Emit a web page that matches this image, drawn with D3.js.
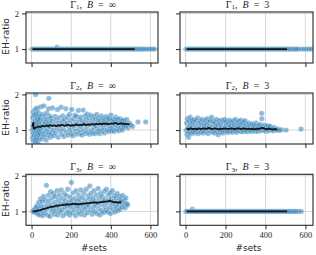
<!DOCTYPE html>
<html>
<head>
<meta charset="utf-8">
<script src="https://cdn.jsdelivr.net/npm/d3@7"></script>
<style>
  body { margin: 0; background: #fff; }
</style>
</head>
<body>
<div class="viz"></div>
<script>
const w = 316;
const h = 255;

// tick values
const xTicks = [0, 200, 400, 600];
const yTicks = [1, 2];

// Gamma_1, B = inf
const g1Inf = [[2,1],[9,1],[16,1],[23,1],[30,1],[37,1],[44,1],[51,1],[58,1],[65,1],[72,1],[79,1],[86,1],[93,1],[100,1],[107,1],[114,1],[121,1],[128,1],[129,1.05],[135,1],[142,1],[149,1],[156,1],[163,1],[170,1],[177,1],[184,1],[191,1],[198,1],[205,1],[212,1],[219,1],[226,1],[233,1],[240,1],[247,1],[254,1],[261,1],[268,1],[275,1],[282,1],[289,1],[296,1],[303,1],[310,1],[317,1],[324,1],[331,1],[338,1],[345,1],[352,1],[359,1],[366,1],[373,1],[380,1],[387,1],[394,1],[401,1],[408,1],[415,1],[422,1],[429,1],[436,1],[443,1],[450,1],[457,1],[464,1],[471,1],[478,1],[485,1],[492,1],[499,1],[506,1],[513,1],[520,1],[527,1],[535,1],[543,1],[552,1],[561,1],[570,1],[580,1],[590,1],[600,1],[610,1],[621,1]];
const m1Inf = [[5,1],[100,1],[200,1],[300,1],[400,1],[520,1]];

// Gamma_1, B = 3
const g13 = [[2,1],[9,1],[16,1],[23,1],[30,1],[37,1],[44,1],[51,1],[58,1],[65,1],[72,1],[79,1],[86,1],[93,1],[100,1],[107,1],[114,1],[121,1],[128,1],[135,1],[142,1],[149,1],[156,1],[163,1],[170,1],[177,1],[184,1],[191,1],[198,1],[205,1],[212,1],[219,1],[226,1],[233,1],[240,1],[247,1],[254,1],[261,1],[268,1],[275,1],[282,1],[289,1],[296,1],[303,1],[310,1],[317,1],[324,1],[331,1],[338,1],[345,1],[352,1],[359,1],[366,1],[373,1],[380,1],[387,1],[394,1],[401,1],[408,1],[415,1],[422,1],[429,1],[436,1],[443,1],[450,1],[457,1],[464,1],[471,1],[478,1],[485,1],[492,1],[499,1],[506,1],[514,1],[522,1],[530,1],[540,1],[548,1],[556,1],[565,1],[580,1],[592,1],[605,1],[617,1],[629,1]];
const m13 = [[5,1],[100,1],[200,1],[300,1],[400,1],[508,1]];

// Gamma_2, B = inf
const g2Inf = [[2,1.0],[4,0.78],[5,1.35],[6,1.12],[7,0.9],[8,1.5],[9,1.22],[10,0.7],[11,1.05],[12,1.42],[13,0.85],[15,1.18],[16,0.95],[17,1.58],[18,0.68],[19,1.28],[20,2.0],[21,0.8],[22,1.45],[23,1.0],[24,1.2],[25,0.74],[26,1.36],[27,0.92],[28,1.62],[29,1.1],[30,0.86],[31,1.3],[32,1.02],[33,0.66],[34,1.5],[35,1.15],[36,0.94],[37,1.25],[38,0.78],[39,1.4],[40,1.06],
  [42,0.88],[44,1.32],[46,1.65],[48,0.98],[50,1.18],[52,0.75],[54,1.44],[56,1.08],[58,0.9],[60,1.28],[62,1.68],[64,0.82],[66,1.15],[68,1.38],[70,0.96],[72,1.22],[74,0.72],[76,1.48],[78,1.04],[80,1.3],[82,0.86],[84,1.12],[86,1.6],[87,1.89],[88,0.94],[90,1.2],[92,1.4],[94,0.8],[96,1.08],[98,1.34],[100,0.9],[103,1.25],[106,1.62],[109,1.0],[112,0.84],[116,1.16],[119,1.38],[122,0.92],[125,1.28],[128,1.06],[131,1.58],[134,0.8],[137,1.2],[140,1.35],[143,0.98],[146,1.12],[149,1.64],
  [152,0.88],[155,1.24],[158,1.4],[161,1.02],[164,0.82],[167,1.3],[170,1.15],[173,1.6],[176,0.94],[179,1.2],[182,1.36],[185,0.86],[188,1.1],[191,1.44],[194,1.0],[197,1.26],[200,0.9],[203,1.58],[206,1.14],[209,0.84],[212,1.32],[215,1.06],[218,1.42],[221,0.96],[224,1.22],[227,1.38],[230,0.88],[233,1.16],[236,1.55],[239,1.02],[242,1.28],[245,0.92],[248,1.36],[251,1.1],[254,0.86],[257,1.24],[260,1.56],[263,0.98],[266,1.18],[269,1.4],[272,0.9],[275,1.3],[278,1.08],[281,1.45],[284,0.95],[287,1.2],[290,1.34],[293,0.88],[296,1.14],[299,1.42],
  [302,1.0],[305,1.28],[308,0.92],[311,1.18],[314,1.38],[317,1.06],[320,0.9],[323,1.3],[326,1.12],[329,1.44],[332,0.96],[335,1.22],[338,1.34],[341,1.02],[344,0.9],[347,1.26],[350,1.14],[353,1.4],[356,0.98],[359,1.2],[362,1.32],[365,1.06],[368,0.92],[371,1.28],[374,1.16],[377,1.38],[380,1.0],[383,1.22],[386,1.34],[389,0.96],[392,1.12],[395,1.3],[398,1.04],[401,1.42],[404,0.98],[407,1.2],[410,1.3],[413,1.08],[416,0.96],[419,1.26],[422,1.16],[425,1.36],[428,1.02],[431,1.22],[434,1.3],[437,1.1],[440,0.98],[443,1.2],[446,1.32],[449,1.06],[452,1.18],[455,1.26],[458,1.0],[461,1.14],[464,1.28],[467,1.08],[470,1.2],[475,1.12],[480,1.3],[486,1.06],[492,1.2],[500,1.15],[510,1.1],[537,1.23],[576,1.23]];
const m2Inf = [[5,1.1],[8,1.2],[12,1.04],[18,1.06],[25,1.08],[35,1.1],[45,1.09],[55,1.12],[65,1.1],[75,1.13],[85,1.11],[95,1.14],[105,1.12],[115,1.13],[125,1.11],[135,1.14],[145,1.12],[155,1.15],[165,1.12],[175,1.13],[185,1.15],[195,1.12],[205,1.14],[215,1.13],[225,1.16],[235,1.13],[245,1.15],[255,1.14],[265,1.17],[275,1.14],[285,1.16],[295,1.15],[305,1.17],[315,1.15],[325,1.18],[335,1.16],[345,1.18],[355,1.16],[365,1.19],[375,1.17],[385,1.18],[395,1.17],[405,1.19],[415,1.18],[425,1.2],[435,1.17],[445,1.18],[455,1.19],[465,1.17],[475,1.18],[485,1.16],[495,1.17]];

// Gamma_2, B = 3
const g23 = [[3,1.0],[5,1.2],[7,0.88],[9,1.32],[11,1.05],[13,0.93],[15,0.8],[17,1.25],[19,1.1],[21,0.96],[23,1.36],[25,1.02],[27,1.18],[29,0.9],[31,1.28],[33,1.08],[35,0.95],[37,1.22],[40,1.0],[43,1.3],[46,0.92],[49,1.14],[52,1.26],[55,0.98],[58,1.06],[61,1.34],[64,0.9],[67,1.18],[70,1.02],[73,1.24],[76,0.94],[79,1.12],[82,1.3],[85,1.0],[88,0.92],[91,1.2],[94,1.08],[97,1.28],[100,0.96],[103,1.16],[106,1.04],[109,1.32],[112,0.9],[115,1.22],[118,1.1],[121,0.98],[124,1.26],[127,1.05],[130,1.36],[133,0.94],[136,1.15],[139,1.24],[142,1.0],[145,0.92],[148,1.2],[151,1.08],[154,1.3],[157,0.96],[160,1.14],[163,0.87],[166,1.26],[169,1.02],[172,1.18],[175,0.94],[178,1.1],[181,1.28],[184,1.0],[187,0.92],[190,1.22],[193,1.06],[196,1.3],[199,0.97],[202,1.14],[205,1.24],[208,1.0],[211,0.93],[214,1.18],[217,1.08],[220,1.28],[223,0.96],[226,1.12],[229,1.22],[232,1.02],[235,0.94],[238,1.26],[241,1.08],[244,1.16],[247,0.98],[250,1.3],[253,1.04],[256,0.94],[259,1.2],[262,1.1],[265,1.25],[268,0.98],[271,1.14],[274,1.06],[277,1.28],[280,0.95],[283,1.18],[286,1.02],[289,1.22],[292,0.96],[295,1.1],[298,1.26],[301,1.0],[305,1.16],[309,0.95],[313,1.08],[317,1.2],[321,1.0],[325,1.12],[329,0.96],[333,1.18],[337,1.04],[341,1.14],[345,0.97],[349,1.1],[353,1.2],[357,1.02],[361,0.96],[365,1.12],[369,1.06],[373,1.16],[377,0.98],[381,1.47],[382,1.32],[385,1.08],[389,1.0],[393,1.14],[397,1.04],[401,0.97],[405,1.1],[409,1.02],[413,1.12],[417,0.98],[421,1.06],[425,1.1],[430,1.0],[435,1.04],[440,0.98],[445,1.07],[450,1.02],[456,1.0],[462,1.03],[468,0.99],[480,1.01],[503,1.0],[578,1.03]];
const m23 = [[5,1.04],[15,1.02],[25,1.05],[35,1.03],[45,1.04],[55,1.02],[65,1.05],[75,1.03],[85,1.04],[95,1.05],[105,1.03],[115,1.06],[125,1.04],[135,1.03],[145,1.05],[155,1.04],[165,1.02],[175,1.04],[185,1.03],[195,1.05],[205,1.04],[215,1.03],[225,1.05],[235,1.04],[245,1.03],[255,1.04],[265,1.05],[275,1.03],[285,1.04],[295,1.05],[305,1.03],[315,1.04],[325,1.03],[335,1.04],[345,1.02],[355,1.04],[365,1.03],[375,1.05],[385,1.06],[395,1.04],[405,1.03],[415,1.04],[425,1.03],[435,1.02],[445,1.03],[458,1.02]];

// Gamma_3, B = inf
const g3Inf = [[6,1.0],[9,1.02],[12,0.98],[15,1.05],[18,1.0],[21,1.1],[24,0.96],[27,1.15],[30,1.02],[33,0.92],[36,1.25],[39,1.08],[42,0.9],[45,1.35],[48,1.15],[51,1.0],[54,1.28],[57,0.88],[60,1.42],[63,1.12],[66,0.95],[69,1.32],[72,1.05],[75,1.73],[78,1.2],[81,0.9],[84,1.45],[87,1.1],[90,1.3],[93,0.86],[96,1.55],[99,1.18],[102,1.0],[105,1.38],[108,1.08],[111,1.5],[114,0.92],[117,1.25],[120,1.42],[123,1.02],[126,1.16],[129,1.58],[132,0.9],[135,1.32],[138,1.1],[141,1.46],[144,0.98],[147,1.22],[150,1.6],[153,1.04],[156,1.36],[159,0.88],[162,1.2],[165,1.5],[168,1.1],[171,1.3],[174,0.94],[177,1.44],[180,1.16],[183,1.62],[186,1.0],[189,1.26],[192,0.9],[195,1.4],[198,1.12],[201,1.81],[204,1.3],[207,0.96],[210,1.52],[213,1.2],[216,1.06],[219,1.36],[222,0.88],[225,1.58],[228,1.15],[231,1.28],[234,0.98],[237,1.46],[240,1.1],[243,1.34],[246,0.92],[249,1.6],[252,1.22],[255,1.02],[258,1.4],[261,1.14],[264,1.52],[267,0.9],[270,1.3],[273,1.08],[276,1.62],[279,1.2],[282,0.96],[285,1.44],[288,1.16],[291,1.34],[294,1.71],[297,1.04],[300,1.5],[303,1.26],[306,0.92],[309,1.38],[312,1.12],[315,1.58],[318,1.0],[321,1.3],[324,1.18],[327,1.46],[330,0.94],[333,1.24],[336,1.64],[339,1.08],[342,1.36],[345,0.9],[348,1.5],[351,1.2],[354,1.02],[357,1.42],[360,1.28],[363,0.96],[366,1.56],[369,1.14],[372,1.34],[375,1.04],[378,1.62],[381,1.24],[384,0.98],[387,1.46],[390,1.3],[393,1.1],[396,1.52],[399,0.94],[402,1.36],[405,1.2],[408,1.58],[411,1.06],[414,1.28],[417,1.44],[420,0.98],[423,1.18],[426,1.38],[429,1.1],[432,1.5],[435,1.02],[438,1.3],[441,1.2],[444,1.42],[447,1.06],[450,1.26],[453,1.34],[456,1.12],[460,1.45],[464,1.2],[468,1.3],[472,1.1],[476,1.38],[480,1.22],[485,1.18]];
const m3Inf = [[5,1.0],[20,1.0],[30,1.02],[40,1.03],[50,1.05],[60,1.07],[70,1.08],[80,1.1],[90,1.11],[100,1.13],[110,1.13],[120,1.15],[130,1.16],[140,1.17],[150,1.17],[160,1.18],[170,1.19],[180,1.2],[190,1.19],[200,1.2],[210,1.21],[220,1.21],[230,1.2],[240,1.2],[250,1.21],[260,1.22],[270,1.22],[280,1.23],[290,1.23],[300,1.24],[310,1.25],[320,1.25],[330,1.24],[340,1.25],[350,1.26],[360,1.27],[370,1.27],[380,1.28],[388,1.29],[395,1.3],[402,1.28],[410,1.27],[418,1.26],[425,1.26],[432,1.25],[440,1.25],[447,1.26],[453,1.25]];

// Gamma_3, B = 3
const g33 = [[2,1],[9,1],[16,1],[23,1],[30,1],[34,1.06],[37,1],[44,1],[51,1],[58,1],[65,1],[72,1],[79,1],[86,1],[93,1],[100,1],[107,1],[114,1],[121,1],[128,1],[135,1],[142,1],[149,1],[156,1],[163,1],[170,1],[177,1],[184,1],[191,1],[198,1],[205,1],[212,1],[219,1],[226,1],[233,1],[240,1],[247,1],[254,1],[261,1],[268,1],[275,1],[282,1],[289,1],[296,1],[303,1],[310,1],[317,1],[324,1],[331,1],[338,1],[345,1],[352,1],[359,1],[366,1],[373,1],[380,1],[387,1],[394,1],[401,1],[408,1],[415,1],[422,1],[429,1],[436,1],[443,1],[450,1],[457,1],[464,1],[471,1],[478,1],[485,1],[492,1],[499,1],[506,1],[513,1],[520,1],[528,1],[536,1],[544,1],[552,1],[565,1],[579,1]];
const m33 = [[5,1],[100,1],[200,1],[300,1],[400,1],[508,1]];

const panels = [
    {row: 0, col: 0, sub: "1", b: "∞", pts: g1Inf, mean: m1Inf},
    {row: 0, col: 1, sub: "1", b: "3", pts: g13, mean: m13},
    {row: 1, col: 0, sub: "2", b: "∞", pts: g2Inf, mean: m2Inf},
    {row: 1, col: 1, sub: "2", b: "3", pts: g23, mean: m23},
    {row: 2, col: 0, sub: "3", b: "∞", pts: g3Inf, mean: m3Inf},
    {row: 2, col: 1, sub: "3", b: "3", pts: g33, mean: m33}
];

const svg = d3.select(".viz")
    .append("svg")
    .attr("width", w)
    .attr("height", h);

const colX = [26, 180];
const colW = [132, 133];
const rowY = [12, 93, 174.3];
const ph = 51;
const xDomain = [-28, 638];
const yDomain = [0.61, 2.04];
const ink = "#262626";
const serif = "'Liberation Serif', 'DejaVu Serif', serif";

panels.forEach(function (p, i) {
    const x0 = colX[p.col], y0 = rowY[p.row], pw = colW[p.col];
    const x = d3.scaleLinear().domain(xDomain).range([x0, x0 + pw]);
    const y = d3.scaleLinear().domain(yDomain).range([y0 + ph, y0]);

    const g = svg.append("g");

    svg.append("clipPath").attr("id", "clip" + i)
        .append("rect").attr("x", x0).attr("y", y0).attr("width", pw).attr("height", ph);

    // grid
    g.selectAll(".gx").data(xTicks).enter().append("line")
        .attr("x1", d => x(d)).attr("x2", d => x(d))
        .attr("y1", y0).attr("y2", y0 + ph)
        .style("stroke", "#d6d6d6").style("stroke-width", 1);
    g.selectAll(".gy").data(yTicks).enter().append("line")
        .attr("x1", x0).attr("x2", x0 + pw)
        .attr("y1", d => y(d)).attr("y2", d => y(d))
        .style("stroke", "#d6d6d6").style("stroke-width", 1);

    const plot = g.append("g").attr("clip-path", "url(#clip" + i + ")");

    plot.selectAll("circle")
        .data(p.pts)
        .enter()
        .append("circle")
        .attr("cx", d => x(d[0]))
        .attr("cy", d => y(d[1]))
        .attr("r", 2.7)
        .style("fill", "#1f77b4")
        .style("fill-opacity", 0.5)
        .style("stroke", "#fff")
        .style("stroke-opacity", 0.7)
        .style("stroke-width", 0.4);

    const line = d3.line().x(d => x(d[0])).y(d => y(d[1]));
    plot.append("path")
        .attr("d", line(p.mean))
        .style("fill", "none")
        .style("stroke", "#151515")
        .style("stroke-width", 1.8)
        .style("stroke-linejoin", "round");

    // axes
    const xAxis = d3.axisBottom(x).tickValues(xTicks).tickSize(4).tickPadding(2.5)
        .tickFormat(p.row === 2 ? d3.format("d") : "");
    const ax = g.append("g").attr("transform", "translate(0," + (y0 + ph) + ")").call(xAxis);
    const yAxis = d3.axisLeft(y).tickValues(yTicks).tickSize(4).tickPadding(3)
        .tickFormat(p.col === 0 ? d3.format("d") : "");
    const ay = g.append("g").attr("transform", "translate(" + x0 + ",0)").call(yAxis);
    [ax, ay].forEach(a => {
        a.select(".domain").remove();
        a.selectAll("line").style("stroke", ink).style("stroke-width", 1);
        a.selectAll("text").style("fill", ink).style("font-family", serif).style("font-size", "8.5px");
    });

    // frame
    g.append("rect")
        .attr("x", x0).attr("y", y0).attr("width", pw).attr("height", ph)
        .style("fill", "none").style("stroke", ink).style("stroke-width", 1.1);

    // title
    const t = svg.append("text")
        .attr("x", x0 + pw / 2 + 1).attr("y", y0 - 4.5)
        .attr("text-anchor", "middle")
        .style("font-family", serif).style("font-size", "10px").style("fill", ink)
        .style("white-space", "pre");
    t.append("tspan").text("Γ");
    t.append("tspan").attr("dy", 1.8).style("font-size", "7px").text(p.sub);
    t.append("tspan").attr("dy", -1.8).text(",  ");
    t.append("tspan").style("font-style", "italic").text("B");
    t.append("tspan").text("  =  " + p.b);
});

// axis labels
["#sets", "#sets"].forEach(function (lbl, c) {
    svg.append("text")
        .attr("x", colX[c] + colW[c] / 2 + 2).attr("y", 251)
        .attr("text-anchor", "middle")
        .style("font-family", "'DejaVu Sans', sans-serif").style("font-size", "9px").style("fill", ink)
        .text(lbl);
});
rowY.forEach(function (ry) {
    svg.append("text")
        .attr("transform", "translate(8.5," + (ry + ph / 2 - 1) + ") rotate(-90)")
        .attr("text-anchor", "middle")
        .style("font-family", "'DejaVu Sans', sans-serif").style("font-size", "9px").style("fill", ink)
        .text("EH-ratio");
});
</script>
</body>
</html>
